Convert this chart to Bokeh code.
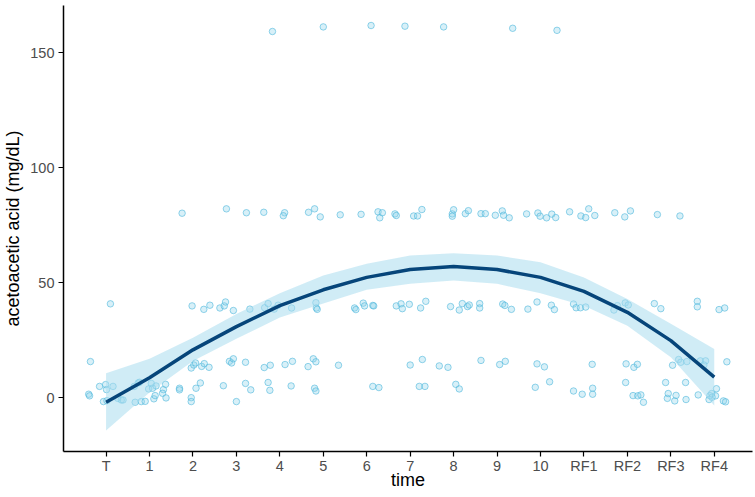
from bokeh.plotting import figure
from bokeh.models import Range1d, FixedTicker, ColumnDataSource
from bokeh.embed import file_html
from bokeh.resources import INLINE

# ---- data ----
time_labels = ["T", "1", "2", "3", "4", "5", "6", "7", "8", "9", "10", "RF1", "RF2", "RF3", "RF4"]
time_pos = list(range(len(time_labels)))

# fitted smooth curve and its confidence band at each time point
fit_mean = [-1.9, 8.8, 20.9, 31.0, 40.1, 47.0, 52.4, 55.8, 57.1, 55.8, 52.4, 46.3, 37.2, 24.9, 9.0]
fit_upper = [10.7, 17.0, 26.1, 36.5, 45.5, 53.2, 58.3, 61.9, 62.9, 61.9, 59.0, 52.4, 43.0, 32.2, 21.3]
fit_lower = [-14.2, 2.3, 16.0, 25.7, 35.0, 41.0, 47.0, 49.6, 51.0, 49.6, 45.5, 40.1, 31.4, 17.7, -3.3]

# jittered observations (time position incl. jitter, value in mg/dL)
obs_160_x = [3.83, 5.00, 6.10, 6.88, 7.77, 9.36, 10.38]
obs_160_y = [159.3, 161.3, 161.9, 161.6, 161.3, 160.7, 159.8]

obs_80_x = [1.75, 2.77, 3.23, 3.63, 4.11, 4.08, 4.66, 4.80, 4.93, 5.39, 5.87, 6.26, 6.36, 6.30,
            6.65, 6.68, 7.08, 7.17, 7.27, 7.97, 7.97, 8.00, 8.27, 8.34, 8.63, 8.73, 8.96, 9.12,
            9.15, 9.28, 9.68, 9.94, 9.99, 10.14, 10.26, 10.35, 10.67, 10.93, 11.04, 11.11, 11.25,
            11.71, 11.94, 12.07, 12.69, 13.21]
obs_80_y = [80.3, 82.2, 80.5, 80.7, 80.5, 79.2, 80.7, 82.2, 78.7, 79.6, 79.8, 80.9, 80.5, 78.3,
            80.0, 79.3, 79.1, 79.1, 81.9, 80.0, 79.0, 81.8, 80.1, 81.4, 80.1, 80.1, 79.4, 81.3,
            79.4, 78.3, 80.0, 80.4, 79.0, 78.3, 79.9, 78.4, 80.9, 79.1, 78.4, 82.2, 79.3,
            80.5, 78.7, 81.3, 79.7, 79.1]

obs_40_x = [0.10, 1.98, 2.25, 2.39, 2.62, 2.72, 2.75, 2.93, 3.31, 3.65, 3.73, 3.87, 3.96, 4.27,
            4.83, 4.84, 4.86, 5.72, 5.75, 5.92, 5.95, 6.14, 6.16, 6.68, 6.79, 6.82, 6.98, 7.24,
            7.36, 7.93, 8.13, 8.20, 8.32, 8.36, 8.60, 8.60, 9.13, 9.18, 9.33, 9.71, 9.92, 10.25,
            10.32, 10.76, 10.82, 10.92, 11.04, 11.69, 11.77, 11.95, 12.02, 12.62, 12.77, 13.61,
            13.61, 14.11, 14.24]
obs_40_y = [40.9, 40.0, 38.5, 40.3, 39.1, 40.0, 41.7, 38.0, 38.6, 39.2, 41.0, 38.6, 40.3, 39.1,
            41.4, 39.1, 38.5, 39.1, 38.4, 41.2, 40.0, 40.2, 40.0, 40.0, 40.9, 38.8, 40.7, 39.1,
            42.0, 39.7, 38.2, 41.0, 39.7, 40.4, 41.0, 39.1, 40.8, 40.2, 38.5, 38.6, 41.7, 40.3,
            38.4, 40.8, 39.2, 39.2, 39.5, 38.2, 40.1, 41.3, 40.4, 41.0, 38.8, 42.0,
            39.6, 38.4, 39.1]

obs_15_x = [-0.36, 1.96, 2.02, 2.06, 2.20, 2.26, 2.37, 2.84, 2.89, 2.93, 3.21, 3.64, 3.78, 4.12,
            4.29, 4.65, 4.77, 4.83, 5.35, 7.00, 7.28, 7.67, 7.87, 8.63, 9.06, 9.19, 9.92, 10.09,
            11.19, 11.97, 12.15, 12.23, 13.04, 13.18, 13.23, 13.37, 13.68, 13.80, 13.76, 14.29]
obs_15_y = [15.8, 13.0, 14.3, 15.2, 13.7, 14.9, 13.3, 15.9, 15.2, 17.0, 15.5, 13.2, 14.2, 14.5,
            15.9, 13.6, 17.0, 15.7, 14.2, 14.3, 16.7, 13.9, 13.3, 16.3, 14.5, 15.9, 14.8, 13.5,
            14.6, 14.8, 13.3, 14.6, 14.2, 16.7, 15.5, 15.8, 16.1, 16.1, 14.3, 15.7]

obs_5_x = [-0.15, -0.01, 0.01, 0.16, 0.65, 0.74, 0.77, 0.98, 1.04, 1.07, 1.15, 1.32, 1.37, 1.69,
           1.69, 2.07, 2.17, 2.70, 3.21, 3.33, 3.73, 3.77, 4.26, 4.80, 4.83, 6.14, 6.28, 7.21,
           7.34, 8.05, 8.13, 9.88, 10.21, 10.76, 10.96, 11.20, 11.20, 11.96, 12.88, 13.34, 14.05]
obs_5_y = [5.0, 5.8, 3.6, 5.0, 5.0, 6.5, 6.8, 3.9, 6.3, 4.2, 5.2, 3.6, 5.9, 4.2,
           3.5, 4.2, 6.5, 5.3, 6.3, 3.5, 6.7, 3.3, 5.2, 4.2, 3.0, 5.0, 4.5, 5.0,
           5.0, 5.9, 3.9, 4.6, 7.0, 3.0, 1.6, 4.2, 1.6, 6.7, 6.7, 6.7, 4.0]

obs_0_x = [-0.40, -0.38, -0.06, 0.02, 0.27, 0.35, 0.39, 0.67, 0.81, 0.90, 1.10, 1.13, 1.30, 1.38,
           1.96, 1.96, 3.00, 12.13, 12.24, 12.31, 12.37, 12.92, 12.94, 13.09, 13.12, 13.35, 13.63,
           13.88, 13.90, 13.94, 13.95, 14.03, 14.21, 14.26]
obs_0_y = [1.6, 0.9, -1.6, -1.2, -0.2, -0.9, -0.9, -1.9, -1.6, -1.5, -0.4, 1.0, 2.0, 0.0,
           0.1, -1.6, -1.6, 1.0, 0.9, 1.3, -1.9, -0.2, 1.9, -1.3, 1.1, -0.7, 1.3,
           -0.7, 1.0, 1.9, 0.3, 0.9, -1.3, -1.7]

y_ticks = [0, 50, 100, 150]

# ---- figure ----
FONT = "Liberation Sans"
p = figure(width=755, height=497, output_backend="svg", toolbar_location=None,
           x_range=Range1d(-0.98, 14.88), y_range=Range1d(-23.3, 170.6),
           min_border_left=63, min_border_right=3, min_border_top=5, min_border_bottom=46)
p.outline_line_color = None
p.background_fill_color = "white"
p.border_fill_color = "white"
p.xgrid.visible = False
p.ygrid.visible = False

all_x = obs_160_x + obs_80_x + obs_40_x + obs_15_x + obs_5_x + obs_0_x
all_y = obs_160_y + obs_80_y + obs_40_y + obs_15_y + obs_5_y + obs_0_y
p.scatter(all_x, all_y, size=6.5, marker="circle",
          fill_color="#8fd3ea", fill_alpha=0.35, line_color="#4fb8dc", line_alpha=0.6, line_width=1)

band_src = ColumnDataSource(dict(x=time_pos, lo=fit_lower, hi=fit_upper))
p.varea(x="x", y1="lo", y2="hi", source=band_src, fill_color="#a9dcee", fill_alpha=0.55)
p.line(time_pos, fit_mean, line_color="#06457a", line_width=3.5)

# axes
for ax in (p.xaxis[0], p.yaxis[0]):
    ax.axis_line_color = "black"
    ax.axis_line_width = 1.5
    ax.major_tick_line_color = "black"
    ax.major_tick_line_width = 1.2
    ax.major_tick_out = 5
    ax.major_tick_in = 0
    ax.minor_tick_line_color = None
    ax.major_label_text_font = FONT
    ax.major_label_text_font_size = "14.5px"
    ax.major_label_text_color = "#4d4d4d"
    ax.major_label_text_line_height = 1.0
    ax.axis_label_text_font = FONT
    ax.axis_label_text_font_size = "18px"
    ax.axis_label_text_font_style = "normal"
    ax.axis_label_text_color = "black"
    ax.axis_label_text_line_height = 1.0

p.xaxis.ticker = FixedTicker(ticks=time_pos)
p.xaxis.major_label_overrides = {i: lab for i, lab in zip(time_pos, time_labels)}
p.xaxis.axis_label = "time"
p.xaxis.major_label_standoff = 1
p.xaxis.axis_label_standoff = -7

p.yaxis.ticker = FixedTicker(ticks=y_ticks)
p.yaxis.axis_label = "acetoacetic acid (mg/dL)"
p.yaxis.major_label_standoff = 4
p.yaxis.axis_label_standoff = 4

open("out.html", "w").write(file_html(p, INLINE))
